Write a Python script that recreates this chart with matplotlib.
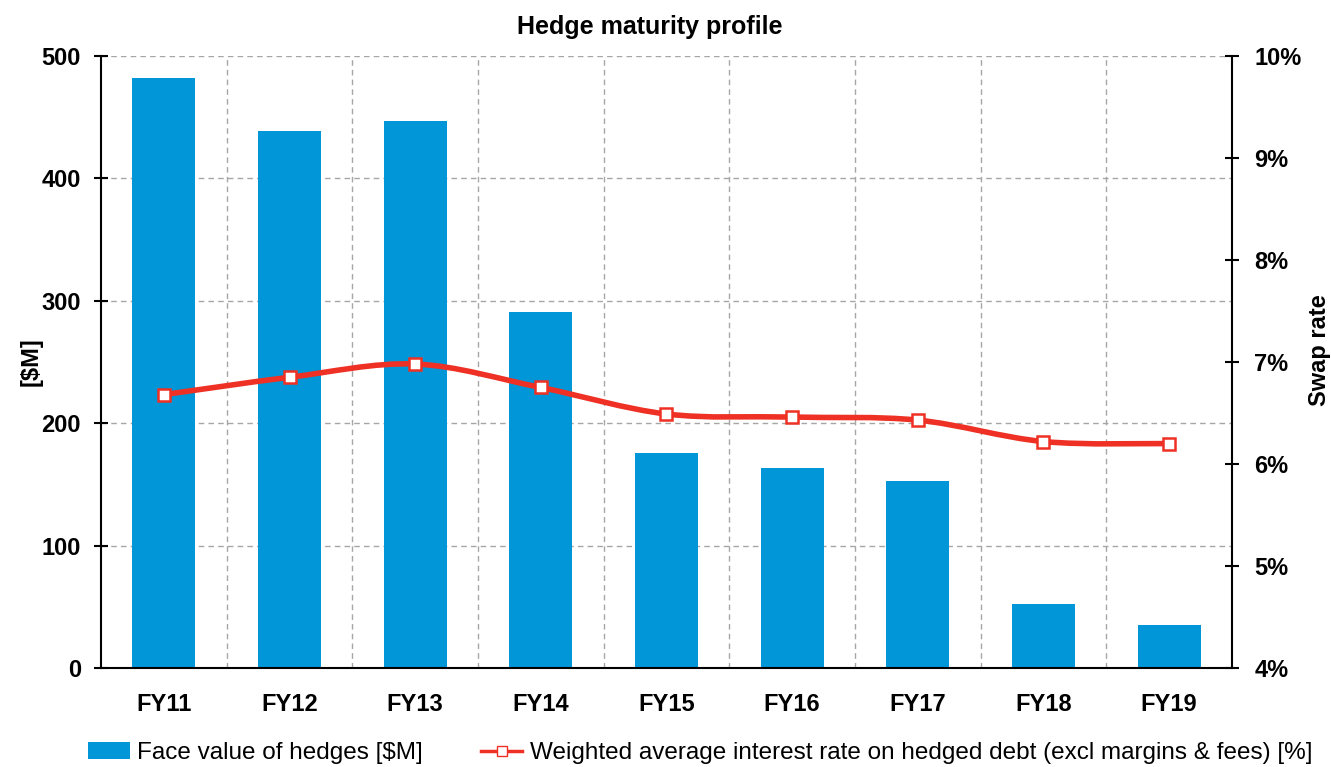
import matplotlib
matplotlib.use("Agg")
import matplotlib.pyplot as plt
import numpy as np
from matplotlib.path import Path
from matplotlib.patches import PathPatch, Patch
from matplotlib.lines import Line2D

plt.rcParams['font.family'] = ['Liberation Sans', 'DejaVu Sans']

years = ['FY11', 'FY12', 'FY13', 'FY14', 'FY15', 'FY16', 'FY17', 'FY18', 'FY19']
face_value = [482, 439, 447, 291, 176, 163, 153, 52, 35]
swap_rate = [6.68, 6.85, 6.98, 6.75, 6.49, 6.46, 6.43, 6.22, 6.20]

bar_col = '#0096D8'
line_col = '#EE3124'
grid_col = '#A6A6A6'

fig = plt.figure(figsize=(13.31, 7.67), dpi=100)
ax = fig.add_axes([0.0759, 0.1291, 0.8497, 0.7979])
x = np.arange(len(years))

ax.bar(x, face_value, width=0.5, color=bar_col, zorder=2)
ax.set_xlim(-0.5, len(years) - 0.5)
ax.set_ylim(0, 500)
ax.set_yticks([0, 100, 200, 300, 400, 500])
ax.set_xticks(x)
ax.set_xticklabels(years)

# grid: horizontal at value ticks, vertical between categories
for v in [100, 200, 300, 400, 500]:
    ax.axhline(v, color=grid_col, lw=1, ls=(0, (4, 3)), zorder=1)
for b in x[1:] - 0.5:
    ax.axvline(b, color=grid_col, lw=1, ls=(0, (4, 3)), zorder=1)

ax.spines['top'].set_visible(False)
ax.spines['right'].set_visible(False)
ax.spines['left'].set_linewidth(1.5)
ax.spines['bottom'].set_linewidth(1.5)
ax.tick_params(axis='y', direction='inout', length=10, width=1.5, labelsize=17, pad=9.5)
ax.tick_params(axis='x', length=0, labelsize=17, pad=18)
for lab in ax.get_xticklabels() + ax.get_yticklabels():
    lab.set_fontweight('bold')
ax.set_ylabel('[$M]', fontsize=17, fontweight='bold')
ax.yaxis.set_label_coords(-0.052, 0.5)
ax.set_title('Hedge maturity profile', fontsize=18, fontweight='bold', pad=16, x=0.485)

ax2 = ax.twinx()
ax2.set_ylim(4, 10)
ax2.set_yticks([4, 5, 6, 7, 8, 9, 10])
ax2.set_yticklabels([f'{t}%' for t in range(4, 11)])
for s in ['top', 'left', 'bottom']:
    ax2.spines[s].set_visible(False)
ax2.spines['right'].set_linewidth(1.5)
ax2.tick_params(axis='y', direction='inout', length=10, width=1.5, labelsize=17, pad=11)
for lab in ax2.get_yticklabels():
    lab.set_fontweight('bold')
ax2.set_ylabel('Swap rate', fontsize=17, fontweight='bold')
ax2.yaxis.set_label_coords(1.067, 0.52)

# smoothed line (Catmull-Rom style bezier through the points)
pts = np.column_stack([x, swap_rate]).astype(float)
verts = [pts[0]]
codes = [Path.MOVETO]
n = len(pts)
for i in range(n - 1):
    p0 = pts[i - 1] if i > 0 else pts[i]
    p1 = pts[i]
    p2 = pts[i + 1]
    p3 = pts[i + 2] if i + 2 < n else pts[i + 1]
    c1 = p1 + (p2 - p0) / 6
    c2 = p2 - (p3 - p1) / 6
    verts += [c1, c2, p2]
    codes += [Path.CURVE4] * 3
ax2.add_patch(PathPatch(Path(verts, codes), fill=False, edgecolor=line_col, lw=4, zorder=3))
ax2.plot(x, swap_rate, ls='none', marker='s', ms=8, mfc='white', mec=line_col, mew=1.8, zorder=4)

handles = [
    Patch(facecolor=bar_col, edgecolor='none'),
    Line2D([], [], color=line_col, lw=2.5, marker='s', ms=7, mfc='white', mec=line_col),
]
labels = ['Face value of hedges [$M]',
          'Weighted average interest rate on hedged debt (excl margins & fees) [%]']
fig.legend(handles, labels, loc='lower center', bbox_to_anchor=(0.526, -0.025), ncol=2,
           frameon=False, fontsize=17.5, handlelength=1.7, handletextpad=0.3, columnspacing=2.4)

fig.savefig('out.png', dpi=100)
